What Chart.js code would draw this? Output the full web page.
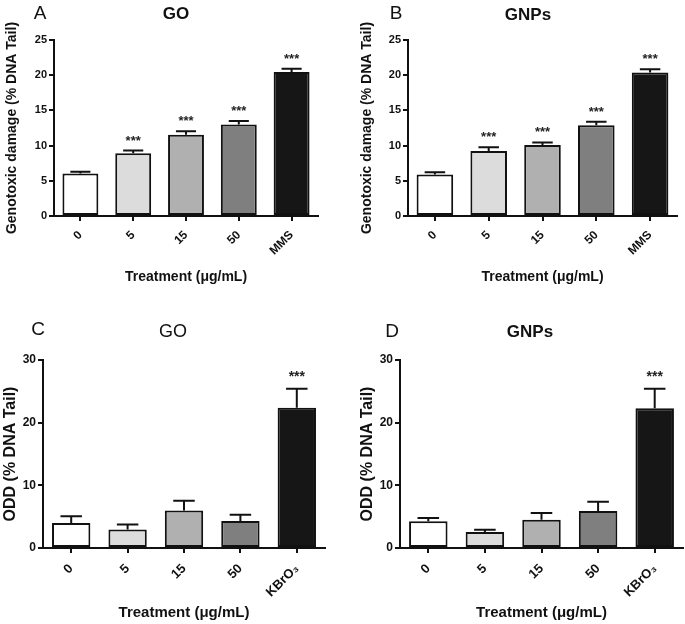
<!DOCTYPE html>
<html>
<head>
<meta charset="utf-8">
<script src="https://cdn.jsdelivr.net/npm/chart.js@4/dist/chart.umd.min.js"></script>
<style>
  html, body { margin: 0; padding: 0; background: #fff; }
  #page { position: relative; width: 685px; height: 624px; overflow: hidden; font-family: 'Liberation Sans', Arial, sans-serif; color: #111; }
  .panel { position: absolute; }
  .label { position: absolute; width: 120px; text-align: center; white-space: nowrap; }
</style>
</head>
<body>
<div id="page">
  <div class="panel" style="left:0;top:0;width:342px;height:300px"><canvas id="chartA"></canvas></div>
  <div class="panel" style="left:342px;top:0;width:343px;height:300px"><canvas id="chartB"></canvas></div>
  <div class="panel" style="left:0;top:300px;width:342px;height:324px"><canvas id="chartC"></canvas></div>
  <div class="panel" style="left:342px;top:300px;width:343px;height:324px"><canvas id="chartD"></canvas></div>

  <!-- 面板字母与标题 -->
  <div class="label" style="left:-20px;top:1px;font-size:19px;line-height:24px">A</div>
  <div class="label" style="left:116px;top:4px;font-size:17px;line-height:20px;font-weight:bold">GO</div>
  <div class="label" style="left:336px;top:1px;font-size:19px;line-height:24px">B</div>
  <div class="label" style="left:468px;top:5px;font-size:17px;line-height:20px;font-weight:bold">GNPs</div>
  <div class="label" style="left:-22px;top:317px;font-size:19px;line-height:24px">C</div>
  <div class="label" style="left:113px;top:320px;font-size:18px;line-height:22px">GO</div>
  <div class="label" style="left:332px;top:319px;font-size:19px;line-height:24px">D</div>
  <div class="label" style="left:470px;top:322px;font-size:17px;line-height:20px;font-weight:bold">GNPs</div>
</div>

<script>
/* ==================== 数据 ==================== */
const cometLabels = ['0', '5', '15', '50', 'MMS'];
const oddLabels = ['0', '5', '15', '50', 'KBrO\u2083'];

// A: GO 彗星实验
const goComet = [6.05, 8.9, 11.55, 13.0, 20.45];
const goCometErr = [0.25, 0.4, 0.5, 0.5, 0.45];
const goCometSig = ['', '***', '***', '***', '***'];

// B: GNPs 彗星实验
const gnpComet = [5.9, 9.25, 10.1, 12.9, 20.4];
const gnpCometErr = [0.3, 0.5, 0.35, 0.5, 0.45];
const gnpCometSig = ['', '***', '***', '***', '***'];

// C: GO 氧化损伤
const goOdd = [4.0, 2.95, 6.0, 4.3, 22.4];
const goOddErr = [1.05, 0.8, 1.55, 1.0, 3.0];
const goOddSig = ['', '', '', '', '***'];

// D: GNPs 氧化损伤
const gnpOdd = [4.25, 2.55, 4.5, 5.9, 22.3];
const gnpOddErr = [0.55, 0.35, 1.1, 1.5, 3.1];
const gnpOddSig = ['', '', '', '', '***'];

const cometTicks = [0, 5, 10, 15, 20, 25];
const oddTicks = [0, 10, 20, 30];

// 柱子填充色：白 → 黑
const barFills = ['#ffffff', '#dcdcdc', '#b0b0b0', '#7f7f7f', '#161616'];

/* ==================== 误差线与星号插件 ==================== */
const errorBarPlugin = {
    id: 'errorBars',
    afterDatasetsDraw(chart, args, opts) {
        const { ctx } = chart;
        const meta = chart.getDatasetMeta(0);
        const yScale = chart.scales.y;
        const values = chart.data.datasets[0].data;
        ctx.save();
        ctx.strokeStyle = '#111';
        ctx.lineWidth = 2;
        meta.data.forEach((bar, i) => {
            const topY = yScale.getPixelForValue(values[i] + opts.errors[i]);
            const cap = bar.width * 0.28;
            ctx.beginPath();
            ctx.moveTo(bar.x, bar.y);
            ctx.lineTo(bar.x, topY);
            ctx.moveTo(bar.x - cap, topY);
            ctx.lineTo(bar.x + cap, topY);
            ctx.stroke();
            if (opts.sig[i]) {
                ctx.fillStyle = '#222';
                ctx.font = 'bold ' + opts.starSize + 'px "Liberation Sans", Arial, sans-serif';
                ctx.textAlign = 'center';
                ctx.textBaseline = 'alphabetic';
                ctx.fillText(opts.sig[i], bar.x, topY - opts.starGap);
            }
        });
        ctx.restore();
    }
};

/* ==================== 建图函数 ==================== */
function makePanel(id, cfg) {
    new Chart(document.getElementById(id), {
        type: 'bar',
        data: {
            labels: cfg.labels,
            datasets: [{
                data: cfg.values,
                backgroundColor: barFills,
                borderColor: '#111',
                borderWidth: 2,
                borderSkipped: false,
                barPercentage: 0.68,
                categoryPercentage: 1.0
            }]
        },
        options: {
            responsive: true,
            maintainAspectRatio: false,
            animation: false,
            events: [],
            layout: { padding: cfg.padding },
            plugins: {
                legend: { display: false },
                tooltip: { enabled: false },
                errorBars: { errors: cfg.errors, sig: cfg.sig, starSize: cfg.starSize, starGap: cfg.starGap }
            },
            scales: {
                x: {
                    offset: true,
                    grid: { offset: false, drawOnChartArea: false, drawTicks: true, tickLength: 5, color: '#111', lineWidth: 2 },
                    border: { display: true, color: '#111', width: 2 },
                    ticks: {
                        color: '#111',
                        font: { size: cfg.tickSize, weight: 'bold' },
                        minRotation: 45,
                        maxRotation: 45,
                        padding: cfg.xTickPad
                    },
                    title: {
                        display: true,
                        text: 'Treatment (\u03bcg/mL)',
                        color: '#111',
                        font: { size: cfg.xTitleSize, weight: 'bold' },
                        padding: { top: 0, bottom: cfg.xTitlePad }
                    },
                    afterFit(scale) {
                        scale.height = cfg.xHeight;
                        scale.paddingLeft = 0;
                        scale.paddingRight = 0;
                    }
                },
                y: {
                    min: 0,
                    max: cfg.yTicks[cfg.yTicks.length - 1],
                    afterBuildTicks(scale) {
                        scale.ticks = cfg.yTicks.map(v => ({ value: v }));
                    },
                    grid: { drawOnChartArea: false, drawTicks: true, tickLength: 5, color: '#111', lineWidth: 2 },
                    border: { display: true, color: '#111', width: 2 },
                    ticks: {
                        color: '#111',
                        font: { size: cfg.yTickSize, weight: 'bold' },
                        padding: 2
                    },
                    title: {
                        display: true,
                        text: cfg.yTitle,
                        color: '#111',
                        font: { size: cfg.yTitleSize, weight: 'bold' },
                        padding: { top: cfg.yTitlePad, bottom: 0 }
                    },
                    afterFit(scale) {
                        scale.width = cfg.yWidth;
                        scale.paddingTop = 0;
                        scale.paddingBottom = 0;
                    }
                }
            }
        },
        plugins: [errorBarPlugin]
    });
}

Chart.defaults.font.family = '"Liberation Sans", Arial, sans-serif';

document.addEventListener('DOMContentLoaded', () => {
    /* ---------- A ---------- */
    makePanel('chartA', {
        labels: cometLabels, values: goComet, errors: goCometErr, sig: goCometSig,
        yTicks: cometTicks, yTitle: 'Genotoxic damage (% DNA Tail)',
        padding: { left: 0, right: 24, top: 40, bottom: 0 },
        yWidth: 54, xHeight: 84, xTitlePad: 14, yTitlePad: 4, xTickPad: 7,
        tickSize: 12, yTickSize: 11, xTitleSize: 14, yTitleSize: 14,
        starSize: 13, starGap: 6
    });
    /* ---------- B ---------- */
    makePanel('chartB', {
        labels: cometLabels, values: gnpComet, errors: gnpCometErr, sig: gnpCometSig,
        yTicks: cometTicks, yTitle: 'Genotoxic damage (% DNA Tail)',
        padding: { left: 12, right: 8, top: 40, bottom: 0 },
        yWidth: 54, xHeight: 84, xTitlePad: 14, yTitlePad: 5, xTickPad: 7,
        tickSize: 12, yTickSize: 11, xTitleSize: 14, yTitleSize: 14,
        starSize: 13, starGap: 6
    });
    /* ---------- C ---------- */
    makePanel('chartC', {
        labels: oddLabels, values: goOdd, errors: goOddErr, sig: goOddSig,
        yTicks: oddTicks, yTitle: 'ODD (% DNA Tail)',
        padding: { left: 0, right: 17, top: 60, bottom: 0 },
        yWidth: 43, xHeight: 76, xTitlePad: 2, yTitlePad: 1, xTickPad: 8,
        tickSize: 13, yTickSize: 12, xTitleSize: 15, yTitleSize: 16,
        starSize: 14, starGap: 8
    });
    /* ---------- D ---------- */
    makePanel('chartD', {
        labels: oddLabels, values: gnpOdd, errors: gnpOddErr, sig: gnpOddSig,
        yTicks: oddTicks, yTitle: 'ODD (% DNA Tail)',
        padding: { left: 15, right: 2, top: 60, bottom: 0 },
        yWidth: 43, xHeight: 76, xTitlePad: 2, yTitlePad: 1, xTickPad: 8,
        tickSize: 13, yTickSize: 12, xTitleSize: 15, yTitleSize: 16,
        starSize: 14, starGap: 8
    });
});
</script>
</body>
</html>
